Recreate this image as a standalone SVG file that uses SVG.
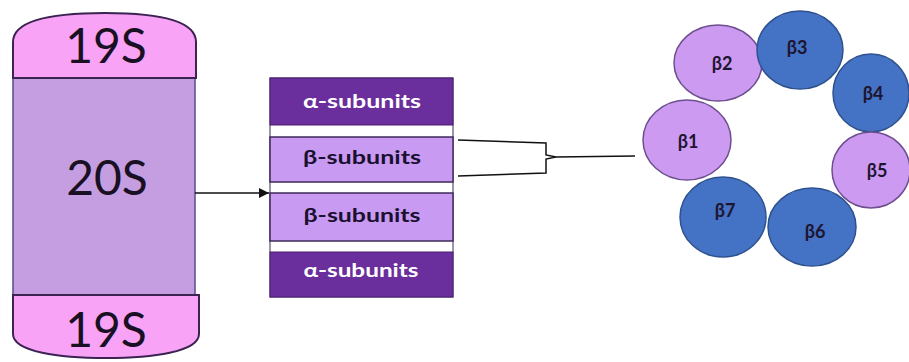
<svg xmlns="http://www.w3.org/2000/svg" width="909" height="362" viewBox="0 0 909 362">
<defs>
<style>
.big{font-family:Lato,"Open Sans","Liberation Sans",sans-serif;font-size:48px;fill:#1a1024;text-anchor:middle}
.cap{fill:#f9a3f6;stroke:#3b2352;stroke-width:2}
.band-a{fill:#6a2f9c;stroke:#4a1f70;stroke-width:1}
.band-b{fill:#c99af2;stroke:#3e2a5a;stroke-width:1.5}
.lbl{font-family:Lato,"Open Sans","Liberation Sans",sans-serif;font-size:18px;font-weight:bold;text-anchor:middle}
.lp{fill:#cc9af0;stroke:#6e4f8e;stroke-width:1.5}
.bl{fill:#4472c4;stroke:#2f528f;stroke-width:1.5}
.bt{font-family:Lato,"Open Sans","Liberation Sans",sans-serif;font-size:18px;font-weight:bold;fill:#1d1530;text-anchor:middle}
.line{fill:none;stroke:#111;stroke-width:1.5}
</style>
<marker id="ah" viewBox="0 0 10 10" refX="10" refY="5" markerWidth="11" markerHeight="10" markerUnits="userSpaceOnUse" orient="auto">
<path d="M0,0 L10,5 L0,10 Z" fill="#111"/>
</marker>
</defs>
<g id="proteasome">
<rect x="13" y="78" width="182" height="217" fill="#c59ee2" stroke="#5a4a8a" stroke-width="1.5"/>
<path class="cap" d="M13,78 L13,42 C13,18 60,13 105,13 C150,13 196,18 196,42 L196,78 Z"/>
<path class="cap" d="M13,295 L13,334 C13,352 60,358 106,358 C152,358 199,352 199,334 L199,295 Z"/>
<text class="big" x="106" y="63">19S</text>
<text class="big" x="107" y="195">20S</text>
<text class="big" x="106" y="347">19S</text>
</g>
<g id="core">
<rect x="270" y="78" width="183" height="219" fill="#ffffff" stroke="#3a2a55" stroke-width="1"/>
<rect class="band-a" x="270" y="78" width="183" height="47"/>
<rect class="band-b" x="270" y="137" width="183" height="45"/>
<rect class="band-b" x="270" y="193" width="183" height="48"/>
<rect class="band-a" x="270" y="252" width="183" height="45"/>
<text class="lbl" x="362" y="108" fill="#ffffff" textLength="118" lengthAdjust="spacingAndGlyphs">α-subunits</text>
<text class="lbl" x="362" y="164" fill="#1a1030" textLength="118" lengthAdjust="spacingAndGlyphs">β-subunits</text>
<text class="lbl" x="362" y="222" fill="#1a1030" textLength="117" lengthAdjust="spacingAndGlyphs">β-subunits</text>
<text class="lbl" x="361" y="277" fill="#ffffff" textLength="115" lengthAdjust="spacingAndGlyphs">α-subunits</text>
</g>
<g id="ring">
<ellipse class="lp" cx="718" cy="63" rx="44" ry="38"/>
<ellipse class="bl" cx="800" cy="50" rx="43" ry="39"/>
<ellipse class="bl" cx="871" cy="93" rx="38" ry="39"/>
<ellipse class="lp" cx="687" cy="140" rx="44" ry="40"/>
<ellipse class="lp" cx="871" cy="170" rx="39" ry="38"/>
<ellipse class="bl" cx="723" cy="217" rx="43" ry="40"/>
<ellipse class="bl" cx="812" cy="227" rx="44" ry="39"/>
<text class="bt" x="722" y="70">β2</text>
<text class="bt" x="797" y="54">β3</text>
<text class="bt" x="873" y="100">β4</text>
<text class="bt" x="688" y="148">β1</text>
<text class="bt" x="877" y="177">β5</text>
<text class="bt" x="725" y="217">β7</text>
<text class="bt" x="815" y="238">β6</text>
</g>
<g id="connectors">
<line class="line" x1="195" y1="193" x2="269" y2="193" marker-end="url(#ah)"/>
<path class="line" d="M458,140 L546,143 L546,155 L556,157 L546,159 L546,173 L458,176"/>
<line class="line" x1="556" y1="157" x2="635" y2="156" stroke-width="1"/>
</g>
</svg>
